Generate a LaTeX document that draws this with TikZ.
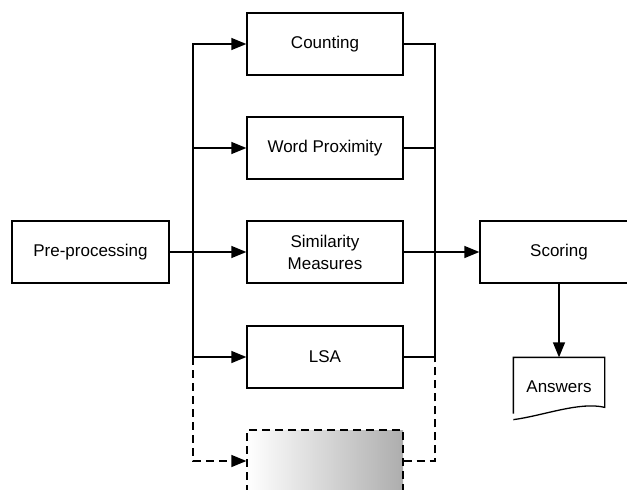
\documentclass[tikz,border=0pt]{standalone}
\usepackage{fontspec}
\setmainfont{Liberation Sans}
\usetikzlibrary{arrows.meta}
\begin{document}
\begin{tikzpicture}[x=1pt,y=-1pt,
  line width=1.3pt,
  every node/.style={font=\fontsize{17}{22}\selectfont, align=center},
  procbox/.style={draw, rectangle, minimum width=156pt, minimum height=62pt, inner sep=0pt},
  hollowbox/.style={procbox, dashed, dash pattern=on 8pt off 5pt, left color=white, right color=black!32},
  link/.style={-{Triangle[length=15pt,width=12pt]}},
  dlink/.style={link, dash pattern=on 8pt off 5pt},
  wire/.style={},
  dwire/.style={dash pattern=on 8pt off 5pt}]
\useasboundingbox (0,0) rectangle (627,490);
\clip (0,0) rectangle (627,490);

% stages
\node[procbox, minimum width=157pt] (pre) at (90.5,252) {Pre-processing};
\node[procbox] (count) at (325,44) {Counting};
\node[procbox] (prox) at (325,148) {Word Proximity};
\node[procbox] (sim) at (325,252) {Similarity\\Measures};
\node[procbox] (lsa) at (325,357) {LSA};
\node[hollowbox] (extra) at (325,461) {};
\node[procbox, minimum width=158pt, minimum height=62pt] (score) at (559,252) {Scoring};

% output document
\node[minimum width=90pt, minimum height=58pt, inner sep=0pt] (ans) at (559,387) {Answers};
\draw (ans.south west) ++(0,-3) |- (ans.north east) -- ++(0,50)
  .. controls ++(-25,-6) and ++(30,-4) .. ([yshift=-3pt]ans.south west);

% fan-out bus
\coordinate (lbus) at (193,252);
\coordinate (rbus) at (435,252);
\draw[link] (pre) -- (sim);
\draw[link] (lbus) |- (count.west);
\draw[link] (lbus) |- (prox.west);
\draw[link] (lbus) |- (lsa.west);
\draw[dlink] (lbus |- lsa.west) |- (extra.west);

% fan-in bus
\draw[wire] (count.east) -| (rbus);
\draw[wire] (prox.east) -| (rbus);
\draw[wire] (lsa.east) -| (rbus);
\draw[dwire] (extra.east) -| (rbus |- lsa.east);
\draw[link] (sim) -- (score);

\draw[link] (score) -- (ans.north);
\end{tikzpicture}
\end{document}
